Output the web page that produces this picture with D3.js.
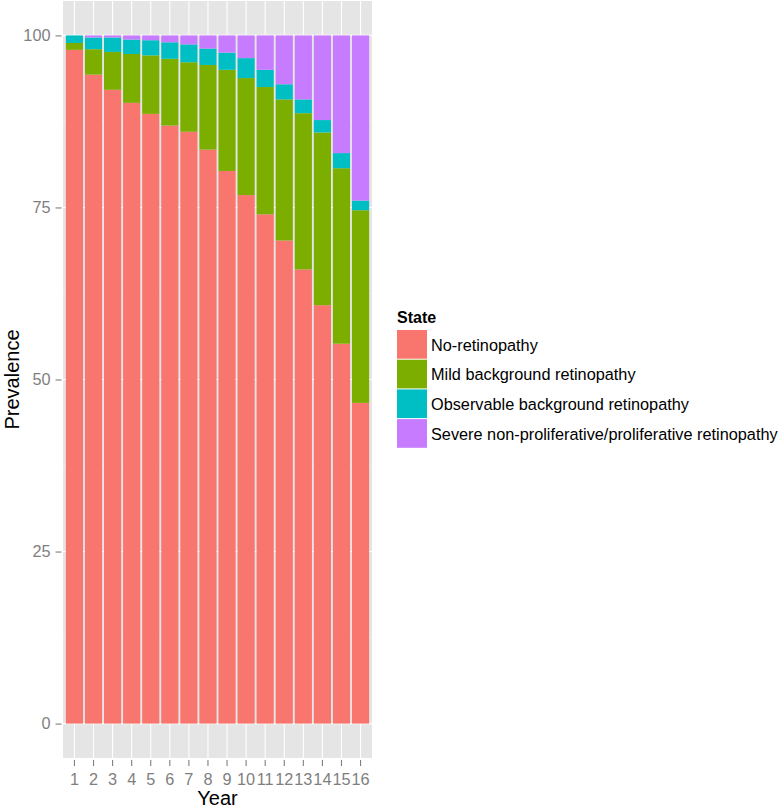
<!DOCTYPE html>
<html>
<head>
<meta charset="utf-8">
<script src="https://cdn.jsdelivr.net/npm/d3@7"></script>
<style>
  html, body { margin: 0; padding: 0; background: #fff; }
  svg { display: block; font-family: "Liberation Sans", Arial, Helvetica, sans-serif; }
</style>
</head>
<body>
<svg id="chart" width="782" height="808"></svg>
<script>
// ---- data ----
const years = ["1","2","3","4","5","6","7","8","9","10","11","12","13","14","15","16"];
const states = ["No-retinopathy", "Mild background retinopathy", "Observable background retinopathy", "Severe non-proliferative/proliferative retinopathy"];
const noRetinopathy = [97.9, 94.3, 92.1, 90.2, 88.6, 86.9, 86.0, 83.4, 80.3, 76.8, 74.0, 70.2, 66.0, 60.8, 55.2, 46.6];
const mildBackground = [1.0, 3.7, 5.5, 7.1, 8.5, 9.7, 10.1, 12.3, 14.7, 17.0, 18.5, 20.5, 22.7, 25.1, 25.5, 28.0];
const observableBackground = [1.1, 1.7, 2.1, 2.1, 2.2, 2.4, 2.6, 2.4, 2.5, 2.9, 2.5, 2.2, 2.0, 1.8, 2.2, 1.4];
const severe = [0.0, 0.3, 0.3, 0.6, 0.7, 1.0, 1.3, 1.9, 2.5, 3.3, 5.0, 7.1, 9.3, 12.3, 17.1, 24.0];
const yTicks = [0, 25, 50, 75, 100];
const colors = ["#F8766D", "#7CAE00", "#00BFC4", "#C77CFF"];

// ---- layout ----
const svg = d3.select("#chart");
const panel = { left: 63, right: 372, top: 1, bottom: 758 };
const tickFont = 16.3;

const x = d3.scaleBand().domain(years).range([panel.left, panel.right])
  .paddingInner(0.1).paddingOuter(0.15);
const y = d3.scaleLinear().domain([-5, 105]).range([panel.bottom, panel.top]);

// panel background
svg.append("rect")
  .attr("x", panel.left).attr("y", panel.top)
  .attr("width", panel.right - panel.left).attr("height", panel.bottom - panel.top)
  .attr("fill", "#E5E5E5");

// minor horizontal gridlines
const minor = [12.5, 37.5, 62.5, 87.5];
svg.append("g").selectAll("line").data(minor).join("line")
  .attr("x1", panel.left).attr("x2", panel.right)
  .attr("y1", d => y(d)).attr("y2", d => y(d))
  .attr("stroke", "#F2F2F2").attr("stroke-width", 0.5);
// major horizontal gridlines
svg.append("g").selectAll("line").data(yTicks).join("line")
  .attr("x1", panel.left).attr("x2", panel.right)
  .attr("y1", d => y(d)).attr("y2", d => y(d))
  .attr("stroke", "#FFFFFF").attr("stroke-width", 1.1);
// major vertical gridlines
svg.append("g").selectAll("line").data(years).join("line")
  .attr("x1", d => x(d) + x.bandwidth() / 2).attr("x2", d => x(d) + x.bandwidth() / 2)
  .attr("y1", panel.top).attr("y2", panel.bottom)
  .attr("stroke", "#FFFFFF").attr("stroke-width", 1.1);

// stacked data
const table = years.map((yr, i) => ({
  year: yr,
  [states[0]]: noRetinopathy[i],
  [states[1]]: mildBackground[i],
  [states[2]]: observableBackground[i],
  [states[3]]: severe[i]
}));
const stack = d3.stack().keys(states);
const series = stack(table);

svg.append("g").selectAll("g").data(series).join("g")
  .attr("fill", (d, i) => colors[i])
  .selectAll("rect").data(d => d).join("rect")
  .attr("x", d => x(d.data.year))
  .attr("width", x.bandwidth())
  .attr("y", d => y(d[1]))
  .attr("height", d => Math.max(0, y(d[0]) - y(d[1])));

// y axis
const yAxis = d3.axisLeft(y).tickValues(yTicks).tickSize(6).tickPadding(5);
const gy = svg.append("g").attr("transform", `translate(${panel.left - 1.5},0)`).call(yAxis);
gy.select(".domain").remove();
gy.selectAll(".tick line").attr("stroke", "#7F7F7F").attr("stroke-width", 1.1);
gy.selectAll(".tick text").attr("fill", "#7F7F7F").attr("font-size", tickFont)
  .attr("font-family", "Liberation Sans, Arial, sans-serif");

// x axis
const xAxis = d3.axisBottom(x).tickSize(6).tickPadding(7);
const gx = svg.append("g").attr("transform", `translate(0,${panel.bottom + 2})`).call(xAxis);
gx.select(".domain").remove();
gx.selectAll(".tick line").attr("stroke", "#7F7F7F").attr("stroke-width", 1.1);
gx.selectAll(".tick text").attr("fill", "#7F7F7F").attr("font-size", tickFont)
  .attr("font-family", "Liberation Sans, Arial, sans-serif");

// axis titles
svg.append("text")
  .attr("x", (panel.left + panel.right) / 2).attr("y", 805)
  .attr("text-anchor", "middle").attr("font-size", 20).attr("fill", "#000")
  .text("Year");
svg.append("text")
  .attr("transform", `translate(18.5,${(panel.top + panel.bottom) / 2}) rotate(-90)`)
  .attr("text-anchor", "middle").attr("font-size", 20).attr("fill", "#000")
  .text("Prevalence");

// legend
const lg = svg.append("g").attr("transform", "translate(397,0)");
lg.append("text").attr("x", 0).attr("y", 323)
  .attr("font-size", 16).attr("font-weight", "bold").attr("fill", "#000").text("State");
const keyH = 29.7, keyTop = 330;
states.forEach((s, i) => {
  lg.append("rect").attr("x", 0).attr("y", keyTop + i * keyH)
    .attr("width", 30).attr("height", keyH - 1).attr("fill", colors[i]);
  lg.append("text").attr("x", 34).attr("y", keyTop + i * keyH + keyH / 2)
    .attr("dy", "0.35em").attr("font-size", tickFont).attr("fill", "#000").text(s);
});
</script>
</body>
</html>
